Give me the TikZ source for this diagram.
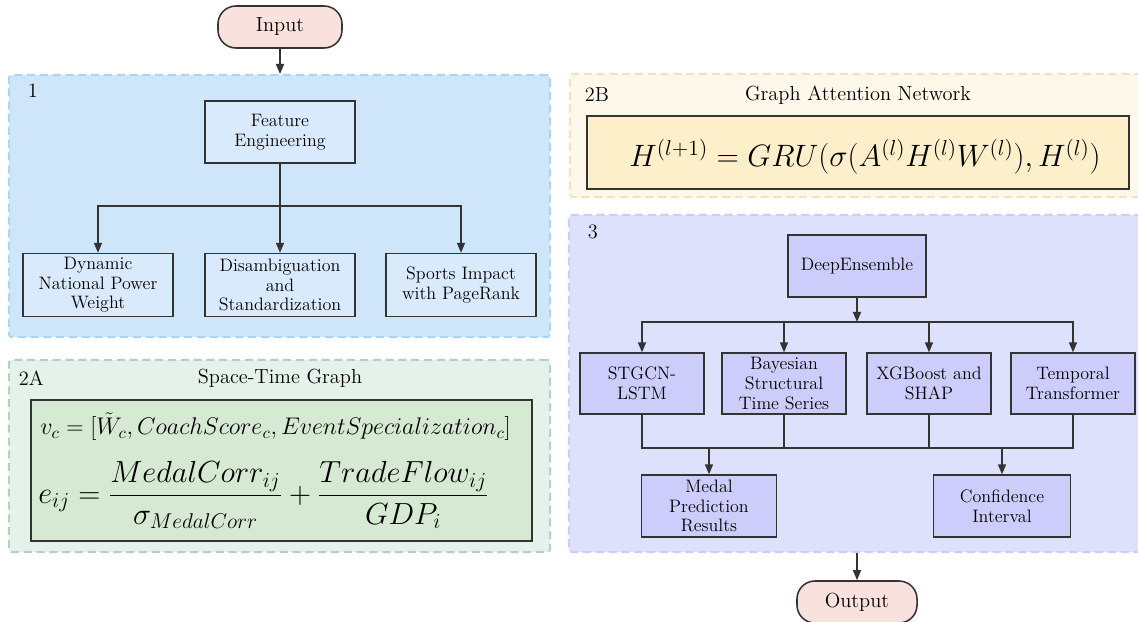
\RequirePackage{fix-cm}
\documentclass[tikz,border=0pt]{standalone}
\usepackage{amsmath,amssymb}
\usepackage{xcolor}
\usetikzlibrary{positioning,calc,arrows.meta}

\definecolor{inkline}{HTML}{333333}
\definecolor{termfill}{HTML}{F9E1DD}
\definecolor{zoneAfill}{HTML}{CFE5FA}
\definecolor{zoneAline}{HTML}{A9D6F2}
\definecolor{boxAfill}{HTML}{DAEAFD}
\definecolor{zoneGfill}{HTML}{E4F2EA}
\definecolor{zoneGline}{HTML}{B7CFC2}
\definecolor{boxGfill}{HTML}{D6EAD3}
\definecolor{zoneYfill}{HTML}{FDF8EA}
\definecolor{zoneYline}{HTML}{F5E3B8}
\definecolor{boxYfill}{HTML}{FEEFCB}
\definecolor{zonePfill}{HTML}{DDE1FC}
\definecolor{zonePline}{HTML}{C9CEF7}
\definecolor{boxPfill}{HTML}{CDCDFB}

\begin{document}
\begin{tikzpicture}[x=0.025cm,y=-0.025cm,
    font=\fontsize{12.8}{14}\selectfont,
    big/.style={font=\fontsize{14.5}{17}\selectfont},
    term/.style={big, draw=inkline, fill=termfill, line width=1.1pt, rounded corners=0.45cm,
        minimum width=3.1cm, minimum height=1.05cm},
    zone/.style 2 args={draw=#1, fill=#2, line width=1.4pt, rounded corners=2pt,
        dash pattern=on 0.2cm off 0.12cm},
    stage/.style={draw=inkline, fill=#1, line width=0.9pt, align=center, inner sep=1pt},
    arr/.style={draw=inkline, line width=1.1pt, -{Triangle[length=0.25cm,width=0.2cm]}},
    wire/.style={draw=inkline, line width=1.1pt}]
    \useasboundingbox (0,0) rectangle (1138,622);

    \node[zone={zoneAline}{zoneAfill}, minimum width=13.525cm, minimum height=6.55cm] (z1) at (279.5,206) {};
    \node[zone={zoneGline}{zoneGfill}, minimum width=13.525cm, minimum height=4.8cm] (z2a) at (279.5,456) {};
    \node[zone={zoneYline}{zoneYfill}, minimum width=14.375cm, minimum height=3.075cm] (z2b) at (857.5,135.5) {};
    \node[zone={zonePline}{zonePfill}, minimum width=14.4cm, minimum height=8.425cm] (z3) at (857,383.5) {};

    \node[big, anchor=west] (t1) at (23,91) {1};
    \node[big, anchor=west] (t2a) at (14,378) {2A};
    \node[big, anchor=west] (t2b) at (580,95) {2B};
    \node[big, anchor=west] (t3) at (583,232) {3};
    \node[big] (h2a) at (280,378) {Space-Time Graph};
    \node[big] (h2b) at (858,95) {Graph Attention Network};

    \node[term] (in) at (280,27) {Input};
    \node[term, minimum width=3cm] (out) at (857,602) {Output};

    \node[stage=boxAfill, minimum width=3.75cm, minimum height=1.55cm] (fe) at (280,132) {Feature\\Engineering};
    \node[stage=boxAfill, minimum width=3.75cm, minimum height=1.575cm] (d1) at (98,285) {Dynamic\\National Power\\Weight};
    \node[stage=boxAfill, minimum width=3.75cm, minimum height=1.575cm] (d2) at (280,285) {Disambiguation\\and\\Standardization};
    \node[stage=boxAfill, minimum width=3.75cm, minimum height=1.575cm] (d3) at (461,285) {Sports Impact\\with PageRank};

    \node[stage=boxGfill, minimum width=12.525cm, minimum height=3.525cm] (f2a) at (281.5,470.5) {};
    \node[anchor=west, inner sep=0pt] (eq1) at (40,427)
        {\fontsize{17.1}{19}\selectfont $v_c = [\tilde{W}_c, CoachScore_c, EventSpecialization_c]$};
    \node[anchor=west, inner sep=0pt] (eq2) at (38,495)
        {\fontsize{21.7}{25}\selectfont $e_{ij} = \dfrac{MedalCorr_{ij}}{\sigma_{MedalCorr}} + \dfrac{TradeFlow_{ij}}{GDP_i}$};

    \node[stage=boxYfill, minimum width=13.55cm, minimum height=1.825cm] (f2b) at (858,152.5) {};
    \node[inner sep=0pt] (eq3) at (865,157)
        {\fontsize{22}{26}\selectfont $H^{(l+1)} = GRU(\sigma(A^{(l)}H^{(l)}W^{(l)}), H^{(l)})$};

    \node[stage=boxPfill, minimum width=3.45cm, minimum height=1.55cm] (de) at (857,266) {DeepEnsemble};
    \node[stage=boxPfill, minimum width=3.1cm, minimum height=1.525cm] (m1) at (642,383.5) {STGCN-\\LSTM};
    \node[stage=boxPfill, minimum width=3.1cm, minimum height=1.525cm] (m2) at (784,383.5) {Bayesian\\Structural\\Time Series};
    \node[stage=boxPfill, minimum width=3.1cm, minimum height=1.525cm] (m3) at (929,383.5) {XGBoost and\\SHAP};
    \node[stage=boxPfill, minimum width=3.1cm, minimum height=1.525cm] (m4) at (1073,383.5) {Temporal\\Transformer};
    \node[stage=boxPfill, minimum width=3.375cm, minimum height=1.55cm] (r1) at (709,506) {Medal\\Prediction\\Results};
    \node[stage=boxPfill, minimum width=3.425cm, minimum height=1.55cm] (r2) at (1002,506) {Confidence\\Interval};

    \coordinate (b1) at (280,206);
    \coordinate (b3) at (857,322);
    \coordinate (b4) at (857,448);

    \draw[arr] (in) -- (in |- z1.north);
    \draw[wire] (fe) -- (b1);
    \draw[arr] (b1) -| (d1);
    \draw[arr] (b1) -| (d3);
    \draw[arr] (b1) -- (d2);

    \draw[arr] (de) -- (b3);
    \draw[arr] (b3) -| (m1);
    \draw[arr] (b3) -| (m4);
    \foreach \n in {m2,m3} {
        \draw[arr] (b3 -| \n) -- (\n);
    }
    \draw[wire] (m1) |- (b4) -| (m4);
    \foreach \n in {m2,m3} {
        \draw[wire] (\n) -- (\n |- b4);
    }
    \draw[arr] (b4 -| r1) -- (r1);
    \draw[arr] (b4 -| r2) -- (r2);
    \draw[arr] (out |- z3.south) -- (out);
\end{tikzpicture}
\end{document}
